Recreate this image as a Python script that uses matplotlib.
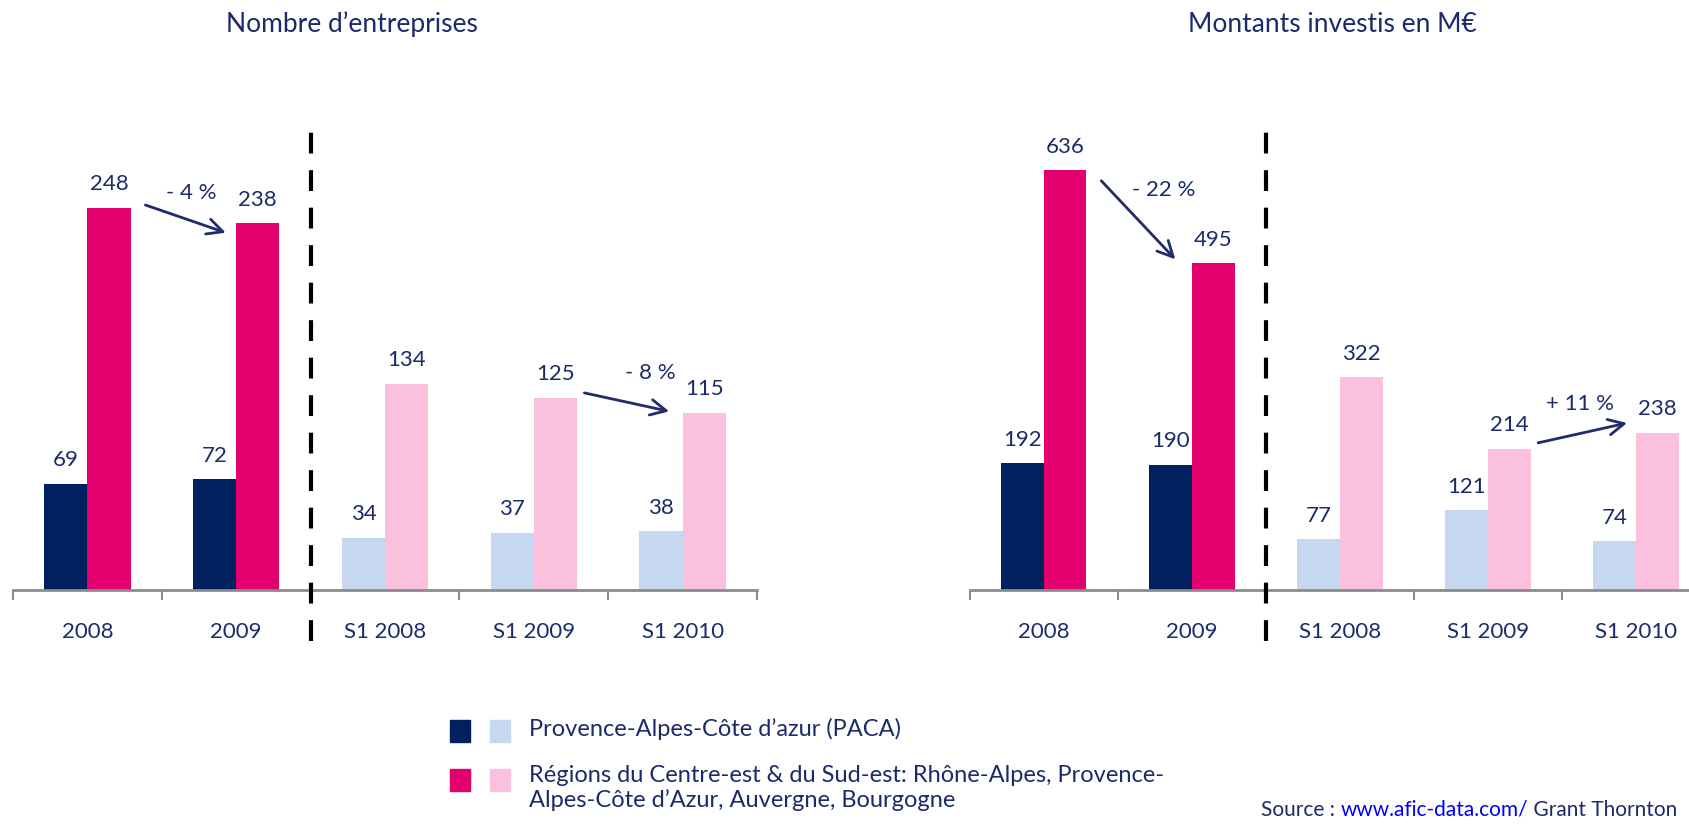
import matplotlib
matplotlib.use('Agg')
import matplotlib.pyplot as plt
import numpy as np

plt.rcParams['font.family'] = ['Lato', 'DejaVu Sans']

# --- data ---
categories = ['2008', '2009', 'S1 2008', 'S1 2009', 'S1 2010']
nb_paca = [69, 72, 34, 37, 38]
nb_regions = [248, 238, 134, 125, 115]
mt_paca = [192, 190, 77, 121, 74]
mt_regions = [636, 495, 322, 214, 238]

# evolution arrows: (start cat, start val, end cat, end val, label, label cat, label val)
nb_arrows = [(0.39, 250, 0.93, 232, '- 4 %', 0.70, 258),
             (3.34, 128, 3.91, 116, '- 8 %', 3.78, 141)]
mt_arrows = [(0.39, 620, 0.89, 501, '- 22 %', 0.81, 606),
             (3.34, 223, 3.94, 253, '+ 11 %', 3.62, 282)]

navy_txt = '#1B2A6B'
dark_blue = '#002060'
light_blue = '#C6D8EF'
magenta = '#E2006E'
light_pink = '#FCC0DF'
axis_gray = '#8C8C8C'

fig = plt.figure(figsize=(16.89, 8.26), dpi=100)
fig.patch.set_facecolor('white')

W, H = 1689.0, 826.0
base_px = 590
ax_h = 462

ax1 = fig.add_axes([13 / W, 1 - base_px / H, 744 / W, ax_h / H])
ax2 = fig.add_axes([969.5 / W, 1 - base_px / H, 740.5 / W, ax_h / H])


def draw_panel(ax, paca, regions, ymax, arrows, title, title_x):
    x = np.arange(len(categories))
    bw = 0.29
    paca_colors = [dark_blue, dark_blue, light_blue, light_blue, light_blue]
    reg_colors = [magenta, magenta, light_pink, light_pink, light_pink]
    ax.bar(x - bw / 2, paca, width=bw, color=paca_colors, zorder=2)
    ax.bar(x + bw / 2, regions, width=bw, color=reg_colors, zorder=2)

    for xs, vals in ((x - bw / 2, paca), (x + bw / 2, regions)):
        for xi, v in zip(xs, vals):
            ax.annotate(str(v), (xi, v), xytext=(0, 17), textcoords='offset points',
                        ha='center', va='center', fontsize=16, color=navy_txt)

    for x0, y0, x1, y1, lab, lx, ly in arrows:
        ax.annotate('', xy=(x1, y1), xytext=(x0, y0),
                    arrowprops=dict(arrowstyle='->', color='#1F2D6B', lw=2,
                                    mutation_scale=28, shrinkA=0, shrinkB=0))
        ax.text(lx, ly, lab, ha='center', va='center', fontsize=16, color=navy_txt)

    ax.set_xlim(-0.5, len(categories) - 0.5)
    ax.set_ylim(0, ymax)
    ax.set_xticks(x)
    ax.set_xticklabels(categories, fontsize=16, color=navy_txt)
    ax.set_xticks(np.arange(-0.5, len(categories)), minor=True)
    ax.tick_params(axis='x', which='major', length=0, pad=23)
    ax.tick_params(axis='x', which='minor', length=7, width=1.5, color=axis_gray)
    ax.set_yticks([])
    for s in ['top', 'right', 'left']:
        ax.spines[s].set_visible(False)
    ax.spines['bottom'].set_color(axis_gray)
    ax.spines['bottom'].set_linewidth(2)
    ax.set_facecolor('none')

    # separator between years and half-years
    ax.axvline(1.5, ymin=-0.11, ymax=1.01, color='black', lw=3,
               dashes=(5, 4), clip_on=False, zorder=3)

    fig.text(title_x / W, 1 - 24 / H, title, ha='center', va='center',
             fontsize=19, color=navy_txt)


draw_panel(ax1, nb_paca, nb_regions, 300, nb_arrows, 'Nombre d\u2019entreprises', 352)
draw_panel(ax2, mt_paca, mt_regions, 700, mt_arrows, 'Montants investis en M\u20ac', 1332)

# legend
legend_rows = [
    (dark_blue, light_blue, 731, 'Provence-Alpes-C\u00f4te d\u2019azur (PACA)'),
    (magenta, light_pink, 780,
     'R\u00e9gions du Centre-est & du Sud-est: Rh\u00f4ne-Alpes, Provence-\n'
     'Alpes-C\u00f4te d\u2019Azur, Auvergne, Bourgogne'),
]
for c1, c2, yc, lab in legend_rows:
    for xl, c in ((450, c1), (490, c2)):
        fig.patches.append(plt.Rectangle((xl / W, 1 - (yc + 11) / H), 20 / W, 22 / H,
                                         transform=fig.transFigure, color=c))
    if '\n' in lab:
        fig.text(529 / W, 1 - (yc - 15) / H, lab, ha='left', va='top',
                 fontsize=17, color=navy_txt, linespacing=1.15)
    else:
        fig.text(529 / W, 1 - (yc - 2) / H, lab, ha='left', va='center',
                 fontsize=17, color=navy_txt)

# source line
t1 = fig.text(1261 / W, 1 - 810 / H, 'Source : ', ha='left', va='center',
              fontsize=15, color=navy_txt)
t2 = fig.text(0, 0, '')
t2 = plt.annotate('www.afic-data.com/', xy=(1, 0.5), xycoords=t1, ha='left',
                  va='center', fontsize=15, color='#0000FF', annotation_clip=False)
t3 = plt.annotate(' Grant Thornton', xy=(1, 0.5), xycoords=t2, ha='left',
                  va='center', fontsize=15, color=navy_txt, annotation_clip=False)

fig.savefig('out.png', dpi=100)
